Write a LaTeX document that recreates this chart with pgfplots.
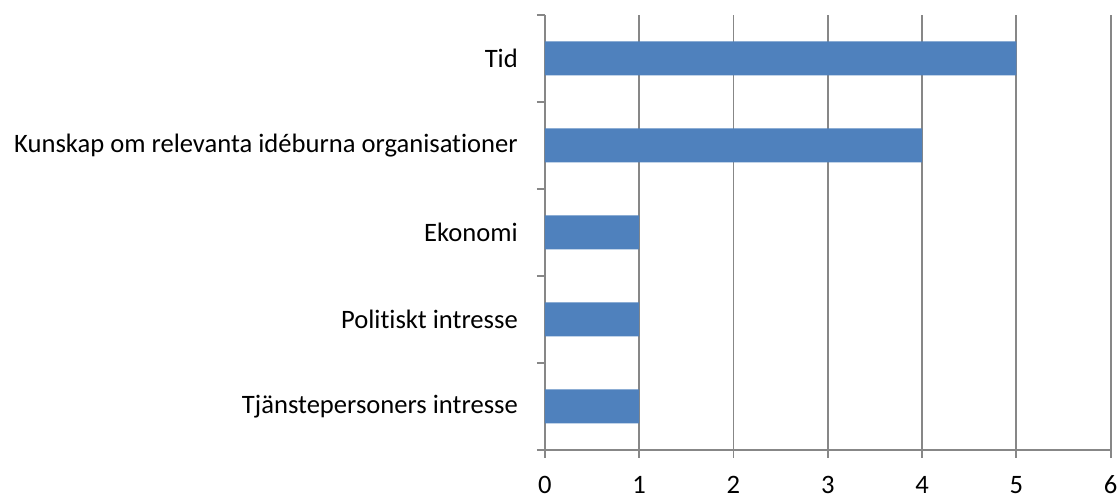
\documentclass[border=0pt]{standalone}
\usepackage{fontspec}
\setmainfont{Carlito}[Ligatures={NoCommon}]
\usepackage{pgfplots}
\pgfplotsset{compat=1.18}

\definecolor{barblue}{HTML}{4F81BD}
\definecolor{gridgray}{HTML}{878787}

\begin{document}
\begin{tikzpicture}
\begin{axis}[
  name=ax,
  scale only axis,
  width=283pt, height=217.5pt,
  xbar, bar width=17pt, bar shift=0pt,
  xmin=0, xmax=6,
  ymin=-0.5, ymax=4.5,
  xtick={0,1,2,3,4,5,6},
  ytick={-0.5,0.5,1.5,2.5,3.5,4.5},
  yticklabels={},
  extra y ticks={0,1,2,3,4},
  extra y tick labels={Tjänstepersoners intresse, Politiskt intresse, Ekonomi,
               Kunskap om relevanta idéburna organisationer, Tid},
  extra y tick style={tick style={draw=none}},
  axis x line*=bottom, axis y line*=left,
  axis line style={gridgray, line width=0.9pt, -},
  tick align=outside,
  major tick length=4pt,
  tick style={gridgray, line width=0.9pt},
  xmajorgrids, major grid style={gridgray, line width=0.9pt},
  /pgf/number format/assume math mode=true,
  tick label style={font=\fontsize{13.3}{15}\selectfont, black},
  xticklabel style={anchor=base, yshift=-18pt},
  yticklabel style={xshift=-6pt},
  clip=false,
]
\addplot[fill=barblue, draw=none] coordinates {
  (1,0) (1,1) (1,2) (4,3) (5,4)};
\end{axis}
\pgfresetboundingbox
\path ([xshift=-272.5pt, yshift=-24.5pt]ax.south west)
  rectangle ([xshift=4.65pt, yshift=7.5pt]ax.north east);
\end{tikzpicture}
\end{document}
